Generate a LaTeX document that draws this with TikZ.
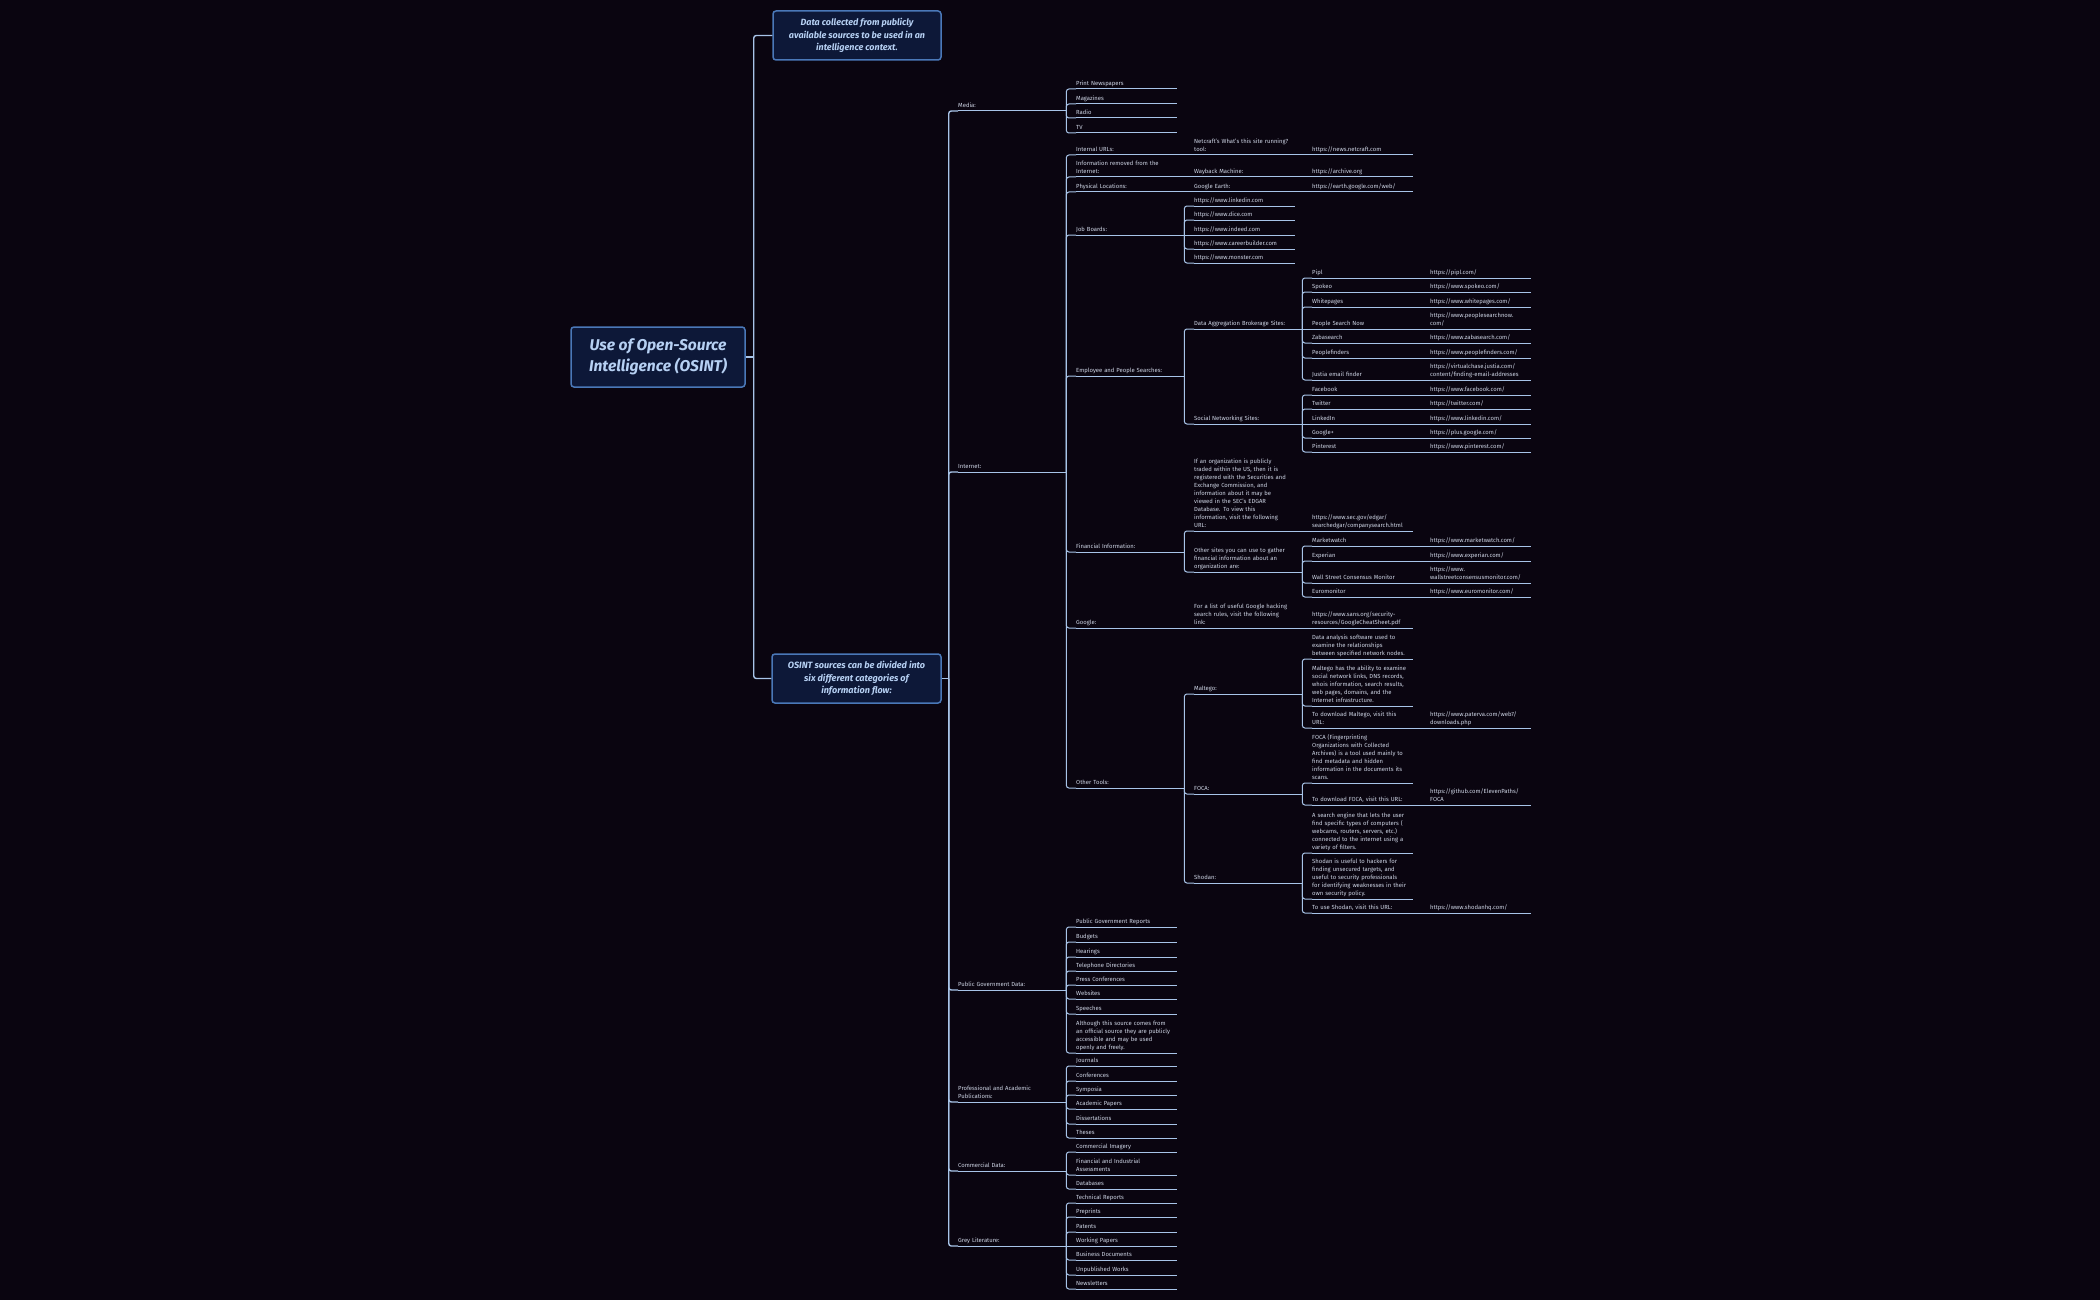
\documentclass[tikz,border=0pt]{standalone}
\usepackage{fontspec}
\setmainfont{Fira Sans}
\setlength{\parindent}{0pt}
\hyphenpenalty=10000
\exhyphenpenalty=10000
\definecolor{bgdark}{RGB}{10,5,16}
\definecolor{boxfill}{RGB}{13,24,56}
\definecolor{boxedge}{RGB}{74,120,184}
\definecolor{boxtext}{RGB}{182,208,243}
\definecolor{linkblue}{RGB}{168,196,232}
\definecolor{itemtext}{RGB}{205,212,228}

\begin{document}
\begin{tikzpicture}[x=1pt,y=-1pt,
    link/.style={draw=linkblue,line width=1pt,rounded corners=2.5pt},
    trunk/.style={link,line width=1.4pt},
    item/.style={anchor=south west,inner xsep=0pt,inner ysep=0.4pt,
      align=left,text=itemtext,
      font=\fontsize{5.9}{8.1}\selectfont,
      execute at end node={\strut},
      append after command={(\tikzlastnode.south west) edge[link]
        (\tikzlastnode.south east)}},
    branch/.style={item,text width=108pt},
    leaf/.style={item,text width=101pt},
    card/.style={draw=boxedge,fill=boxfill,line width=1.5pt,
      rounded corners=3pt,align=center,text=boxtext}]

  \fill[bgdark] (0,0) rectangle (2100,1300);

  \node[card,minimum width=174pt,minimum height=60pt,
    font=\fontsize{15.6}{20.7}\selectfont\bfseries\itshape]
    (root) at (658,357) {Use of Open-Source\\Intelligence (OSINT)};
  \node[card,minimum width=168pt,minimum height=49pt,
    font=\fontsize{9}{12.2}\selectfont\bfseries\itshape]
    (definition) at (857,35.5) {Data collected from publicly\\available sources to be used in an\\intelligence context.};
  \node[card,minimum width=169pt,minimum height=49pt,
    font=\fontsize{9.1}{12.2}\selectfont\bfseries\itshape]
    (categories) at (856.5,678.5) {OSINT sources can be divided into\\six different categories of\\information flow:};

  \node[branch] (media) at (958,111) {Media:};
  \node[branch] (internet) at (958,472) {Internet:};
  \node[branch] (pubgov) at (958,990) {Public Government Data:};
  \node[branch] (profpub) at (958,1102) {Professional and Academic\\Publications:};
  \node[branch] (commdata) at (958,1171) {Commercial Data:};
  \node[branch] (greylit) at (958,1246) {Grey Literature:};

  \foreach \n/\y/\t in {pnews/89/Print Newspapers,mags/104/Magazines,
      radio/118/Radio,tv/133/TV}
    \node[leaf] (\n) at (1076,\y) {\t};

  \node[branch] (inturl) at (1076,155) {Internal URLs:};
  \node[branch] (removed) at (1076,177) {Information removed from the\\Internet:};
  \node[branch] (physloc) at (1076,192) {Physical Locations:};
  \node[branch] (jobs) at (1076,235) {Job Boards:};
  \node[branch] (people) at (1076,376) {Employee and People Searches:};
  \node[branch] (finance) at (1076,552) {Financial Information:};
  \node[branch] (google) at (1076,628) {Google:};
  \node[branch] (tools) at (1076,788) {Other Tools:};

  \foreach \n/\y/\t in {govrep/927/Public Government Reports,budgets/942/Budgets,
      hearings/957/Hearings,phonedir/971/Telephone Directories,
      press/985/Press Conferences,websites/999/Websites,speeches/1014/Speeches,
      journals/1066/Journals,confs/1081/Conferences,symposia/1095/Symposia,
      papers/1109/Academic Papers,dissert/1124/Dissertations,theses/1138/Theses,
      imagery/1152/Commercial Imagery,databases/1189/Databases,
      techrep/1203/Technical Reports,preprints/1217/Preprints,patents/1232/Patents,
      workpap/1246/Working Papers,busdocs/1260/Business Documents,
      unpub/1275/Unpublished Works,newsl/1289/Newsletters}
    \node[leaf] (\n) at (1076,\y) {\t};
  \node[leaf] (openly) at (1076,1053) {Although this source comes from\\an official source they are publicly\\accessible and may be used\\openly and freely.};
  \node[leaf] (finind) at (1076,1175) {Financial and Industrial\\Assessments};

  \node[branch] (netcraft) at (1194,155) {Netcraft's What's this site running?\\tool:};
  \node[branch] (wayback) at (1194,177) {Wayback Machine:};
  \node[branch] (gearth) at (1194,192) {Google Earth:};
  \foreach \n/\y/\t in {jlinked/206/{https://www.linkedin.com},
      jdice/220/{https://www.dice.com},jindeed/235/{https://www.indeed.com},
      jcareer/249/{https://www.careerbuilder.com},
      jmonster/263/{https://www.monster.com}}
    \node[leaf] (\n) at (1194,\y) {\t};
  \node[branch] (dataagg) at (1194,329) {Data Aggregation Brokerage Sites:};
  \node[branch] (social) at (1194,424) {Social Networking Sites:};
  \node[branch] (edgar) at (1194,531) {If an organization is publicly\\traded within the US, then it is\\registered with the Securities and\\Exchange Commission, and\\information about it may be\\viewed in the SEC's EDGAR\\Database. To view this\\information, visit the following\\URL:};
  \node[branch] (others) at (1194,572) {Other sites you can use to gather\\financial information about an\\organization are:};
  \node[branch] (hacking) at (1194,628) {For a list of useful Google hacking\\search rules, visit the following\\link:};
  \node[branch] (maltego) at (1194,694) {Maltego:};
  \node[branch] (foca) at (1194,794) {FOCA:};
  \node[branch] (shodan) at (1194,883) {Shodan:};

  \node[leaf] (netcrafturl) at (1312,155) {https://news.netcraft.com};
  \node[leaf] (archiveurl) at (1312,177) {https://archive.org};
  \node[leaf] (earthurl) at (1312,192) {https://earth.google.com/web/};
  \foreach \n/\y/\t in {pipl/278/Pipl,spokeo/292/Spokeo,whitepages/307/Whitepages,
      psn/329/People Search Now,zaba/343/Zabasearch,pfinders/358/Peoplefinders,
      justia/380/Justia email finder,facebook/395/Facebook,twitter/409/Twitter,
      linkedin/424/LinkedIn,gplus/438/Google+,pinterest/452/Pinterest,
      marketwatch/546/Marketwatch,experian/561/Experian,
      wscm/583/Wall Street Consensus Monitor,euromonitor/597/Euromonitor}
    \node[branch] (\n) at (1312,\y) {\t};
  \node[leaf] (edgarurl) at (1312,531) {https://www.sec.gov/edgar/\\searchedgar/companysearch.html};
  \node[leaf] (sansurl) at (1312,628) {https://www.sans.org/security-\\resources/GoogleCheatSheet.pdf};
  \node[leaf] (maltdesc) at (1312,659) {Data analysis software used to\\examine the relationships\\between specified network nodes.};
  \node[leaf] (maltuse) at (1312,706) {Maltego has the ability to examine\\social network links, DNS records,\\whois information, search results,\\web pages, domains, and the\\Internet infrastructure.};
  \node[branch] (maltdl) at (1312,728) {To download Maltego, visit this\\URL:};
  \node[leaf] (focadesc) at (1312,783) {FOCA (Fingerprinting\\Organizations with Collected\\Archives) is a tool used mainly to\\find metadata and hidden\\information in the documents its\\scans.};
  \node[branch] (focadl) at (1312,805) {To download FOCA, visit this URL:};
  \node[leaf] (shodesc) at (1312,853) {A search engine that lets the user\\find specific types of computers (\\webcams, routers, servers, etc.)\\connected to the internet using a\\variety of filters.};
  \node[leaf] (shouse) at (1312,899) {Shodan is useful to hackers for\\finding unsecured targets, and\\useful to security professionals\\for identifying weaknesses in their\\own security policy.};
  \node[branch] (shodl) at (1312,913) {To use Shodan, visit this URL:};

  \foreach \n/\y/\t in {piplurl/278/{https://pipl.com/},
      spokeourl/292/{https://www.spokeo.com/},
      whitepagesurl/307/{https://www.whitepages.com/},
      zabaurl/343/{https://www.zabasearch.com/},
      pfindersurl/358/{https://www.peoplefinders.com/},
      facebookurl/395/{https://www.facebook.com/},
      twitterurl/409/{https://twitter.com/},
      linkedinurl/424/{https://www.linkedin.com/},
      gplusurl/438/{https://plus.google.com/},
      pinteresturl/452/{https://www.pinterest.com/},
      marketwatchurl/546/{https://www.marketwatch.com/},
      experianurl/561/{https://www.experian.com/},
      euromonitorurl/597/{https://www.euromonitor.com/},
      shodlurl/913/{https://www.shodanhq.com/}}
    \node[leaf] (\n) at (1430,\y) {\t};
  \node[leaf] (psnurl) at (1430,329) {https://www.peoplesearchnow.\\com/};
  \node[leaf] (justiaurl) at (1430,380) {https://virtualchase.justia.com/\\content/finding-email-addresses};
  \node[leaf] (wscmurl) at (1430,583) {https://www.\\wallstreetconsensusmonitor.com/};
  \node[leaf] (maltdlurl) at (1430,728) {https://www.paterva.com/web7/\\downloads.php};
  \node[leaf] (focadlurl) at (1430,805) {https://github.com/ElevenPaths/\\FOCA};

  \draw[trunk] (root.east) -- ++(8,0) coordinate (rootj);
  \foreach \n in {definition,categories}
    \draw[trunk] (rootj) |- (\n.west);
  \draw[trunk] (categories.east) -- ++(7,0) coordinate (catj);
  \foreach \n in {media,internet,pubgov,profpub,commdata,greylit}
    \draw[trunk] (catj) |- (\n.south west);

  \foreach \p/\c in {media/pnews,media/mags,media/radio,media/tv,
      internet/inturl,internet/removed,internet/physloc,internet/jobs,
      internet/people,internet/finance,internet/google,internet/tools,
      pubgov/govrep,pubgov/budgets,pubgov/hearings,pubgov/phonedir,
      pubgov/press,pubgov/websites,pubgov/speeches,pubgov/openly,
      profpub/journals,profpub/confs,profpub/symposia,profpub/papers,
      profpub/dissert,profpub/theses,
      commdata/imagery,commdata/finind,commdata/databases,
      greylit/techrep,greylit/preprints,greylit/patents,greylit/busdocs,
      greylit/unpub,greylit/newsl,
      jobs/jlinked,jobs/jdice,jobs/jcareer,jobs/jmonster,
      people/dataagg,people/social,finance/edgar,finance/others,
      tools/maltego,tools/foca,tools/shodan,
      dataagg/pipl,dataagg/spokeo,dataagg/whitepages,dataagg/zaba,
      dataagg/pfinders,dataagg/justia,
      social/facebook,social/twitter,social/gplus,social/pinterest,
      others/marketwatch,others/experian,others/wscm,others/euromonitor,
      maltego/maltdesc,maltego/maltuse,maltego/maltdl,
      foca/focadesc,foca/focadl,
      shodan/shodesc,shodan/shouse,shodan/shodl}
    \draw[link] (\p.south east) |- (\c.south west);

  \foreach \p/\c in {greylit/workpap,jobs/jindeed,dataagg/psn,social/linkedin,
      google/hacking,inturl/netcraft,removed/wayback,physloc/gearth,
      netcraft/netcrafturl,wayback/archiveurl,gearth/earthurl,
      edgar/edgarurl,hacking/sansurl,
      pipl/piplurl,spokeo/spokeourl,whitepages/whitepagesurl,psn/psnurl,
      zaba/zabaurl,pfinders/pfindersurl,justia/justiaurl,
      facebook/facebookurl,twitter/twitterurl,linkedin/linkedinurl,
      gplus/gplusurl,pinterest/pinteresturl,
      marketwatch/marketwatchurl,experian/experianurl,wscm/wscmurl,
      euromonitor/euromonitorurl,
      maltdl/maltdlurl,focadl/focadlurl,shodl/shodlurl}
    \draw[link] (\p.south east) -- (\c.south west);
\end{tikzpicture}
\end{document}
